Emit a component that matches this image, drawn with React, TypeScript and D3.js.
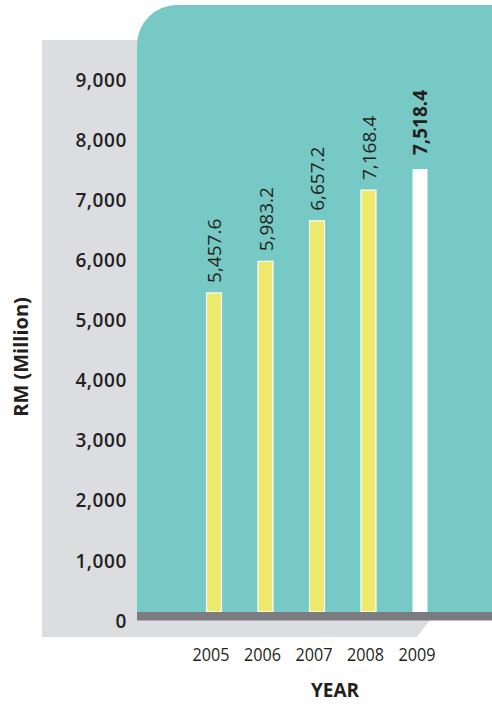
import React from "react";
import * as d3 from "d3";

// Revenue by year, RM million
const years = ["2005", "2006", "2007", "2008", "2009"];
const revenue = [5457.6, 5983.2, 6657.2, 7168.4, 7518.4];
const valueLabels = ["5,457.6", "5,983.2", "6,657.2", "7,168.4", "7,518.4"];
const yTicks = [0, 1000, 2000, 3000, 4000, 5000, 6000, 7000, 8000, 9000];

const W = 492;
const H = 704;

const TEAL = "#76c9c4";
const PANEL = "#dcdde0";
const BASE = "#7c7b7f";
const YELLOW = "#ece96c";
const INK = "#231f20";
const FONT = "'Open Sans', 'Noto Sans', sans-serif";

export default function App() {
  const y = d3.scaleLinear().domain([0, 9000]).range([621, 80]);
  const x = d3.scalePoint<string>().domain(years).range([214, 420]);
  const barW = 15;
  const fmt = d3.format(",");
  const floorY = 612;

  const teal = { x0: 137, y0: 5, x1: W, y1: floorY, r: 40 };
  const tealPath = `M${teal.x0},${teal.y1} V${teal.y0 + teal.r} A${teal.r},${teal.r} 0 0 1 ${teal.x0 + teal.r},${teal.y0} H${teal.x1} V${teal.y1} Z`;
  const panelPath = `M42,40 H${teal.x0 + 2} V620 H430 L417,637 H42 Z`;

  return (
    <svg
      width={W}
      height={H}
      viewBox={`0 0 ${W} ${H}`}
      style={{ position: "absolute", left: 0, top: 0, background: "#fff" }}
    >
      <path d={panelPath} fill={PANEL} />
      <path d={tealPath} fill={TEAL} />

      {/* bars */}
      {years.map((yr, i) => {
        const last = i === years.length - 1;
        const cx = x(yr) as number;
        return (
          <rect
            key={yr}
            x={cx - barW / 2}
            y={y(revenue[i])}
            width={barW}
            height={floorY - y(revenue[i])}
            fill={last ? "#ffffff" : YELLOW}
            stroke="#ffffff"
            strokeWidth={last ? 0 : 1.2}
          />
        );
      })}

      {/* baseline */}
      <rect x={teal.x0} y={floorY} width={W - teal.x0} height={8.5} fill={BASE} />

      {/* value labels */}
      {years.map((yr, i) => {
        const last = i === years.length - 1;
        const cx = (x(yr) as number) + 7;
        const ty = y(revenue[i]) - (last ? 14 : 10);
        return (
          <text
            key={yr}
            transform={`translate(${cx},${ty}) rotate(-90)`}
            fontFamily={FONT}
            fontSize={19}
            fontWeight={last ? 700 : 500}
            fill={INK}
          >
            {valueLabels[i]}
          </text>
        );
      })}

      {/* y ticks */}
      {yTicks.map((t) => (
        <text
          key={t}
          x={127}
          y={y(t)}
          dy="0.35em"
          textAnchor="end"
          fontFamily={FONT}
          fontSize={19}
          fontWeight={600}
          letterSpacing={0.6}
          fill={INK}
        >
          {fmt(t)}
        </text>
      ))}

      {/* x ticks */}
      {years.map((yr) => (
        <text
          key={yr}
          x={(x(yr) as number) - 3}
          y={661}
          textAnchor="middle"
          fontFamily={FONT}
          fontSize={18}
          fontWeight={500}
          textLength={37}
          lengthAdjust="spacingAndGlyphs"
          fill={INK}
        >
          {yr}
        </text>
      ))}

      <text
        x={335}
        y={697}
        textAnchor="middle"
        fontFamily={FONT}
        fontSize={19}
        fontWeight={700}
        fill={INK}
      >
        YEAR
      </text>

      <text
        transform="translate(28,357) rotate(-90)"
        textAnchor="middle"
        fontFamily={FONT}
        fontSize={20}
        fontWeight={700}
        fill={INK}
      >
        RM (Million)
      </text>
    </svg>
  );
}
